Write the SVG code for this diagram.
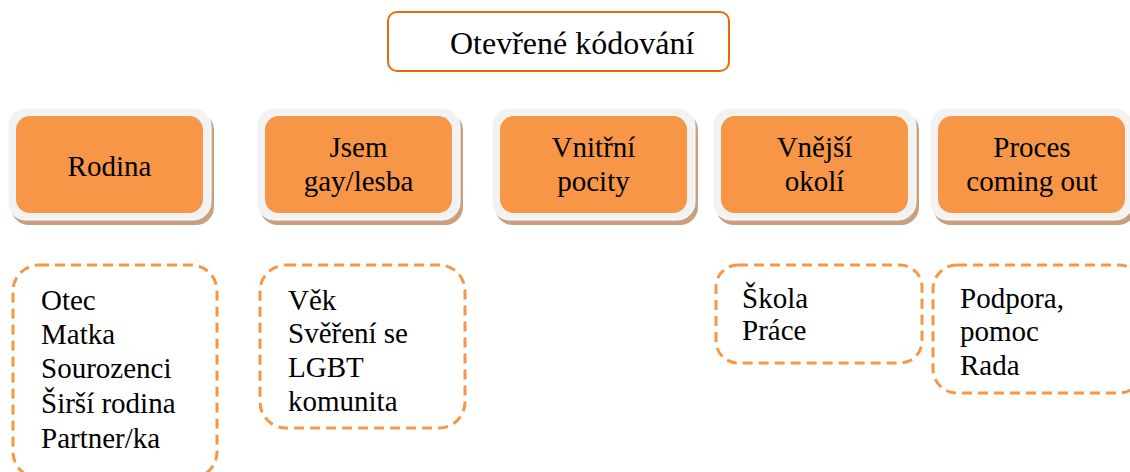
<svg xmlns="http://www.w3.org/2000/svg" width="1130" height="472" viewBox="0 0 1130 472">
<style>
.shadow{fill:#c9a07f}
.frame{fill:#f2f2f2;stroke:#ffffff;stroke-width:1}
.core{fill:#f79646}
.dash{fill:none;stroke:#f79646;stroke-width:3;stroke-dasharray:10 6}
</style>

<g id="title">
<rect x="388" y="12" width="341" height="59" rx="9" fill="#ffffff" stroke="#e46c0a" stroke-width="2"/>
<text font-family="Liberation Serif, Times New Roman, serif" font-size="32" x="450" y="54">Otevřené kódování</text>
</g>

<g id="rodina">
<rect class="shadow" x="11" y="112" width="203" height="113" rx="18"/>
<rect class="frame" x="8" y="108" width="203" height="112" rx="18"/>
<rect class="core" x="16" y="116" width="187" height="97" rx="14"/>
<text font-family="Liberation Serif, Times New Roman, serif" font-size="29" text-anchor="middle" x="109.5" y="176">Rodina</text>
</g>

<g id="jsem">
<rect class="shadow" x="260" y="112" width="203" height="113" rx="18"/>
<rect class="frame" x="257" y="108" width="203" height="112" rx="18"/>
<rect class="core" x="265" y="116" width="187" height="97" rx="14"/>
<g font-family="Liberation Serif, Times New Roman, serif" font-size="29" text-anchor="middle">
<text x="358.5" y="157">Jsem</text>
<text x="358.5" y="191">gay/lesba</text>
</g>
</g>

<g id="vnitrni">
<rect class="shadow" x="495" y="112" width="203" height="113" rx="18"/>
<rect class="frame" x="492" y="108" width="203" height="112" rx="18"/>
<rect class="core" x="500" y="116" width="187" height="97" rx="14"/>
<g font-family="Liberation Serif, Times New Roman, serif" font-size="29" text-anchor="middle">
<text x="593.5" y="157">Vnitřní</text>
<text x="593.5" y="191">pocity</text>
</g>
</g>

<g id="vnejsi">
<rect class="shadow" x="716" y="112" width="203" height="113" rx="18"/>
<rect class="frame" x="713" y="108" width="203" height="112" rx="18"/>
<rect class="core" x="721" y="116" width="187" height="97" rx="14"/>
<g font-family="Liberation Serif, Times New Roman, serif" font-size="29" text-anchor="middle">
<text x="814.5" y="157">Vnější</text>
<text x="814.5" y="191">okolí</text>
</g>
</g>

<g id="proces">
<rect class="shadow" x="933" y="112" width="203" height="113" rx="18"/>
<rect class="frame" x="930" y="108" width="203" height="112" rx="18"/>
<rect class="core" x="938" y="116" width="187" height="97" rx="14"/>
<g font-family="Liberation Serif, Times New Roman, serif" font-size="29" text-anchor="middle">
<text x="1032" y="157">Proces</text>
<text x="1032" y="191">coming out</text>
</g>
</g>

<g id="list-rodina">
<rect class="dash" x="13" y="265" width="204" height="213" rx="26"/>
<g font-family="Liberation Serif, Times New Roman, serif" font-size="29">
<text x="41" y="310">Otec</text>
<text x="41" y="344">Matka</text>
<text x="41" y="378">Sourozenci</text>
<text x="41" y="413">Širší rodina</text>
<text x="41" y="448">Partner/ka</text>
</g>
</g>

<g id="list-jsem">
<rect class="dash" x="260" y="265" width="205" height="163" rx="26"/>
<g font-family="Liberation Serif, Times New Roman, serif" font-size="29">
<text x="288" y="310">Věk</text>
<text x="288" y="343">Svěření se</text>
<text x="288" y="377">LGBT</text>
<text x="288" y="411">komunita</text>
</g>
</g>

<g id="list-vnejsi">
<rect class="dash" x="716" y="265" width="206" height="98" rx="22"/>
<g font-family="Liberation Serif, Times New Roman, serif" font-size="29">
<text x="742" y="308">Škola</text>
<text x="742" y="340">Práce</text>
</g>
</g>

<g id="list-proces">
<rect class="dash" x="933" y="265" width="210" height="128" rx="24"/>
<g font-family="Liberation Serif, Times New Roman, serif" font-size="29">
<text x="960" y="308">Podpora,</text>
<text x="960" y="341">pomoc</text>
<text x="960" y="375">Rada</text>
</g>
</g>

<g id="connectors"></g>
</svg>
